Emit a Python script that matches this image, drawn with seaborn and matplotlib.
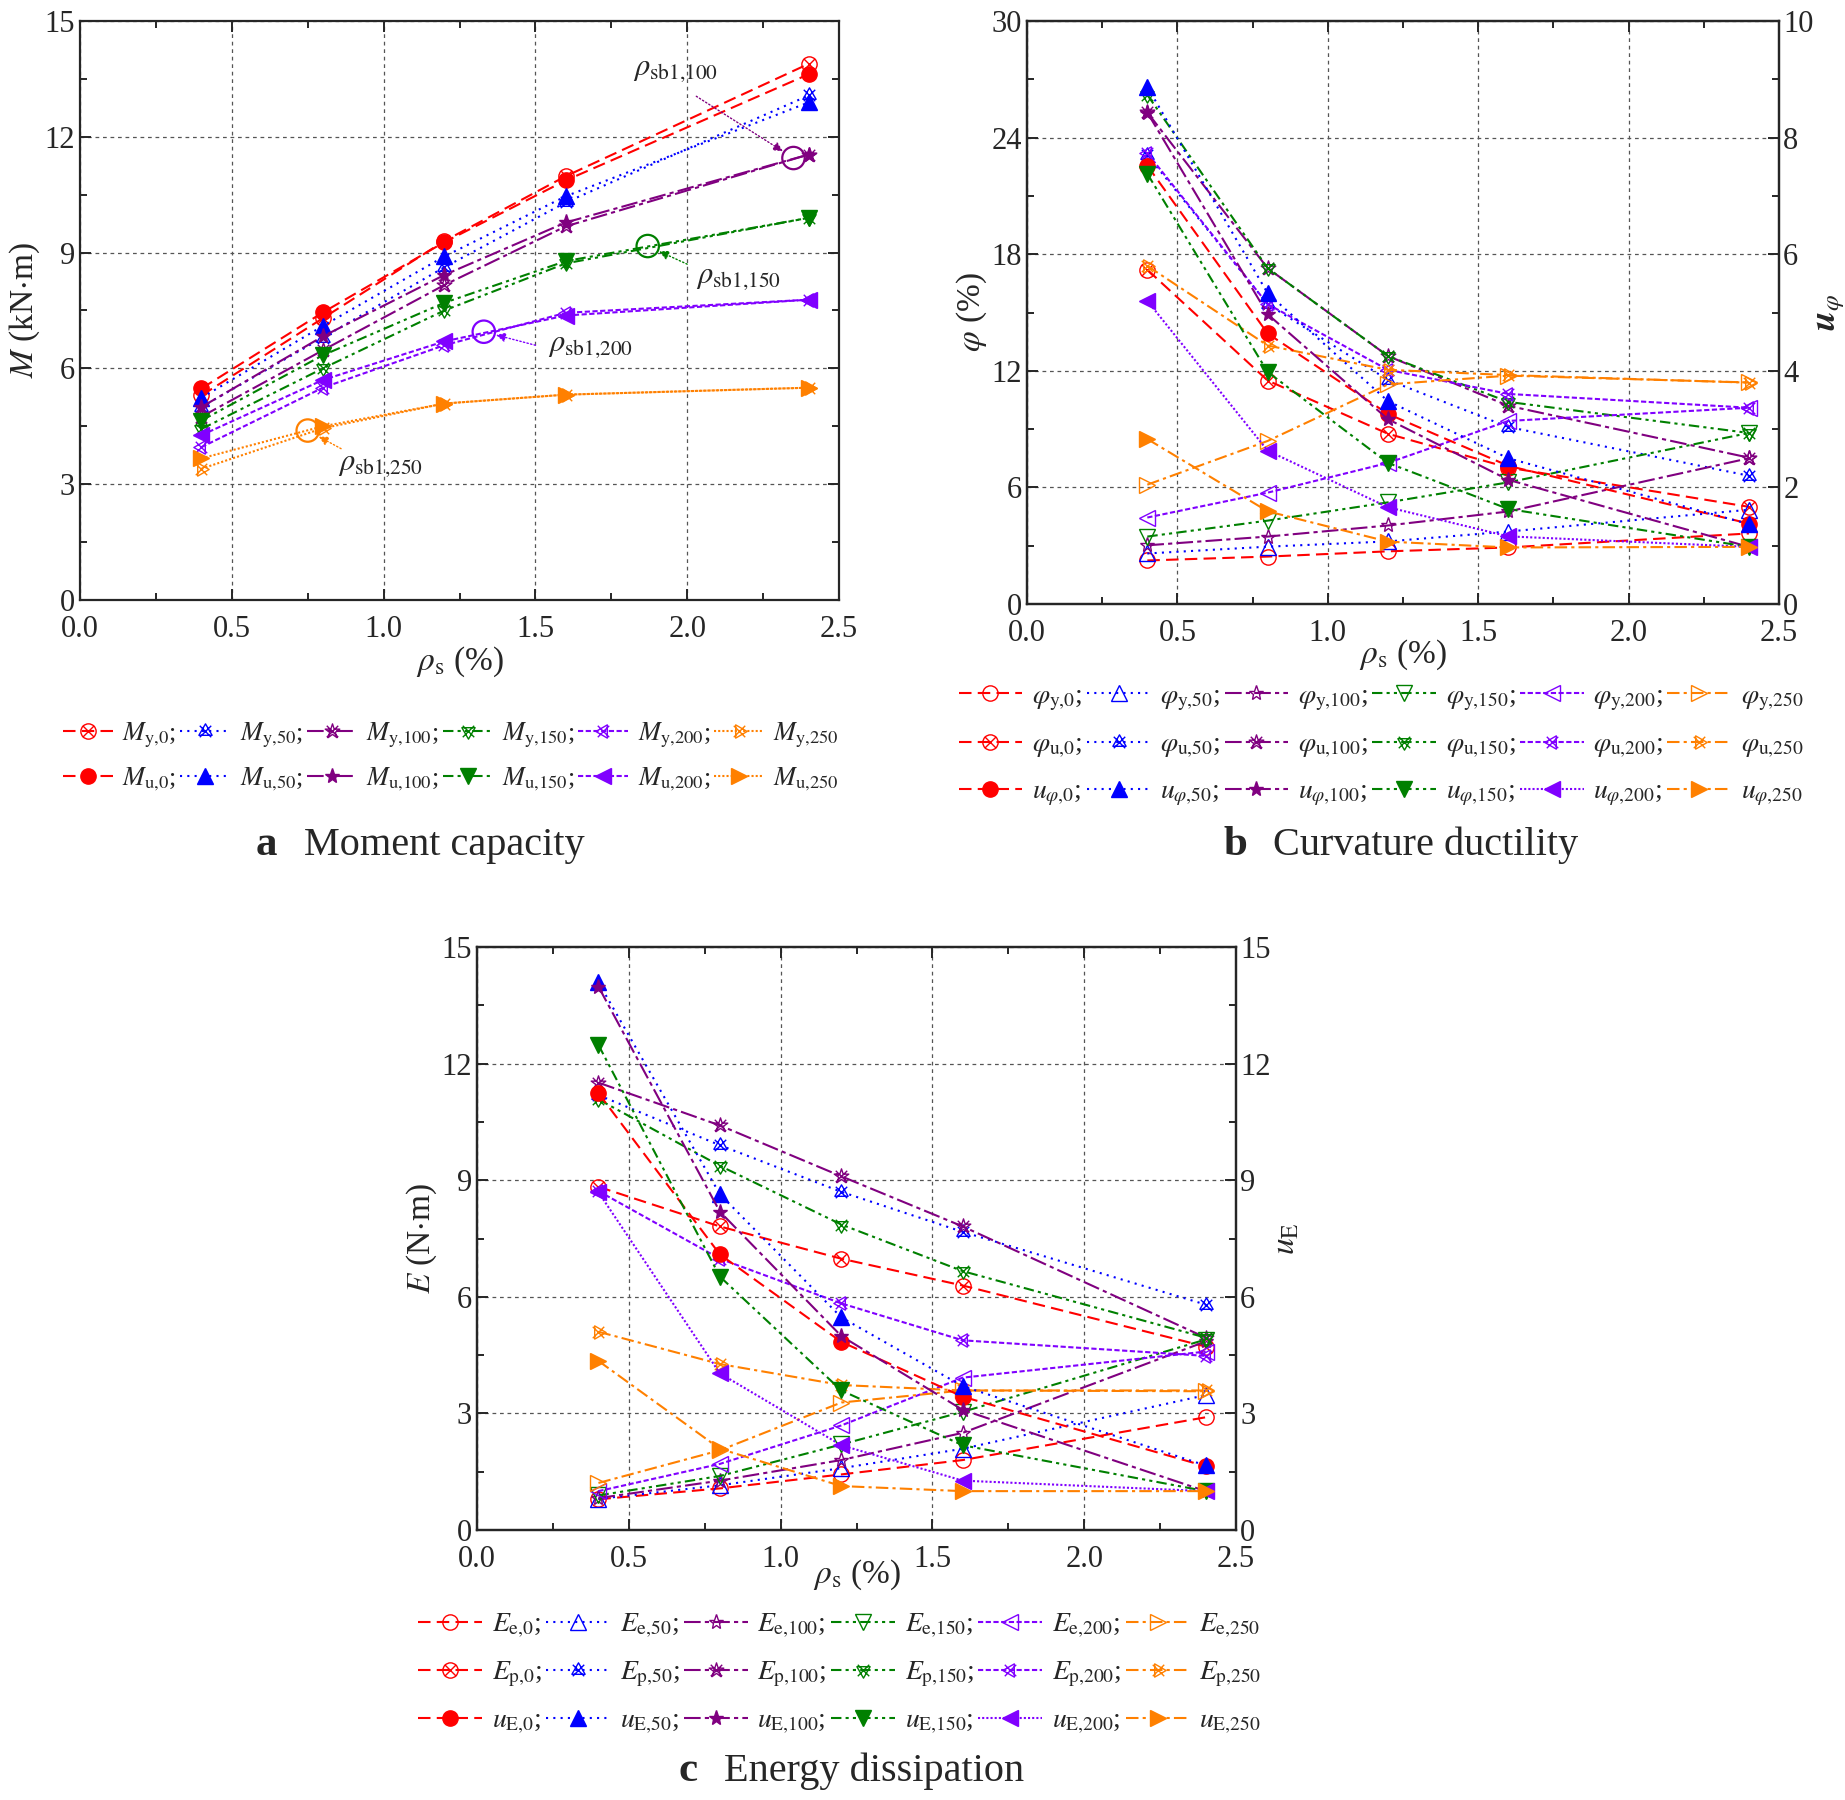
import matplotlib
matplotlib.use('Agg')
import matplotlib.pyplot as plt
import numpy as np
import seaborn as sns
from matplotlib.path import Path
from matplotlib.ticker import MultipleLocator

# Dados
rho_s = [0.4, 0.8, 1.2, 1.6, 2.4]
grupos = ['0', '50', '100', '150', '200', '250']

# (a) momento resistente (kN·m)
m_y = [[5.30, 7.30, 9.30, 10.98, 13.89],
       [5.00, 6.80, 8.62, 10.30, 13.07],
       [4.75, 6.47, 8.16, 9.68, 11.54],
       [4.43, 6.00, 7.50, 8.72, 9.90],
       [3.96, 5.50, 6.60, 7.44, 7.78],
       [3.40, 4.45, 5.09, 5.32, 5.50]]
m_u = [[5.48, 7.45, 9.27, 10.87, 13.62],
       [5.24, 7.10, 8.90, 10.46, 12.89],
       [5.00, 6.83, 8.42, 9.78, 11.54],
       [4.65, 6.34, 7.70, 8.78, 9.90],
       [4.27, 5.70, 6.70, 7.37, 7.78],
       [3.67, 4.50, 5.09, 5.32, 5.50]]
# pontos rho_sb1 (100, 150, 200, 250)
sb1_x = [2.35, 1.87, 1.33, 0.75]
sb1_y = [11.45, 9.17, 6.95, 4.39]

# (b) curvatura (%) e ductilidade
phi_y = [[2.24, 2.44, 2.71, 2.91, 3.63],
         [2.60, 2.95, 3.22, 3.73, 4.85],
         [3.02, 3.47, 4.04, 4.76, 7.50],
         [3.47, 4.29, 5.23, 6.26, 8.80],
         [4.45, 5.73, 7.26, 9.42, 10.10],
         [6.14, 8.39, 11.30, 11.75, 11.40]]
phi_u = [[17.2, 11.50, 8.76, 7.02, 5.00],
         [23.1, 15.43, 11.53, 9.11, 6.60],
         [25.3, 17.28, 12.76, 10.20, 7.53],
         [26.2, 17.28, 12.76, 10.40, 8.80],
         [23.2, 15.43, 12.05, 10.81, 10.10],
         [17.4, 13.30, 12.05, 11.78, 11.39]]
u_phi = [[7.52, 4.64, 3.26, 2.37, 1.38],
         [8.87, 5.33, 3.48, 2.50, 1.37],
         [8.43, 4.97, 3.17, 2.13, 0.98],
         [7.38, 3.98, 2.42, 1.63, 0.98],
         [5.20, 2.63, 1.66, 1.16, 0.98],
         [2.83, 1.59, 1.07, 0.97, 0.98]]

# (c) energia dissipada (N·m) e ductilidade
e_e = [[0.79, 1.07, 1.43, 1.80, 2.90],
       [0.80, 1.15, 1.59, 2.09, 3.47],
       [0.82, 1.27, 1.80, 2.50, 4.85],
       [0.89, 1.39, 2.20, 3.04, 4.90],
       [1.00, 1.70, 2.69, 3.92, 4.59],
       [1.21, 2.05, 3.28, 3.59, 3.57]]
e_p = [[8.83, 7.81, 6.98, 6.29, 4.72],
       [11.19, 9.90, 8.70, 7.67, 5.80],
       [11.51, 10.41, 9.10, 7.81, 4.95],
       [11.08, 9.37, 7.86, 6.66, 4.95],
       [8.72, 6.98, 5.83, 4.88, 4.48],
       [5.10, 4.27, 3.73, 3.59, 3.59]]
u_e = [[11.24, 7.09, 4.84, 3.43, 1.64],
       [14.09, 8.64, 5.47, 3.70, 1.66],
       [13.98, 8.19, 4.99, 3.09, 1.00],
       [12.48, 6.52, 3.59, 2.18, 1.00],
       [8.69, 4.03, 2.18, 1.27, 1.00],
       [4.35, 2.09, 1.13, 1.00, 1.00]]

cores = ['#FF0000', '#0000FF', '#800080', '#008000', '#8000FF', '#FF8000']
estilos = [(0, (6, 3)), (0, (1, 2.5)), (0, (8, 2, 2, 2)), (0, (5, 2, 1.5, 2, 1.5, 2)),
           (0, (2.5, 1.2)), (0, (1, 1))]
estilos_bc = [(0, (6, 3)), (0, (1, 2.5)), (0, (8, 2, 2, 2)), (0, (5, 2, 1.5, 2, 1.5, 2)),
              (0, (2.5, 1.2)), (0, (6, 2, 1.5, 2))]
estilos_u = estilos_bc[:4] + [(0, (1, 1)), (0, (6, 2, 1.5, 2))]
marcadores = ['o', '^', '*', 'v', '<', '>']

# Marcadores "cruzados" (forma + X)
cruz = Path([(-0.75, -0.75), (0.75, 0.75), (-0.75, 0.75), (0.75, -0.75)],
            [Path.MOVETO, Path.LINETO, Path.MOVETO, Path.LINETO])


def tri(rot):
    ang = np.deg2rad(np.array([90, 210, 330, 90]) + rot)
    return Path(list(zip(np.cos(ang), np.sin(ang))), closed=True)


formas = [Path.unit_circle(), tri(0), Path.unit_regular_star(5, 0.38), tri(180), tri(90), tri(270)]
marc_cruz = [Path.make_compound_path(f, cruz) for f in formas]

sns.set_style('ticks')
plt.rcParams['font.family'] = ['Liberation Serif', 'DejaVu Serif']
plt.rcParams['mathtext.fontset'] = 'stix'
plt.rcParams['axes.linewidth'] = 1.6

fig = plt.figure(figsize=(18.45, 18), dpi=100)
TAM = 22


def serie(ax, y, cor, ls, mk, aberto, label, ms=11):
    sns.lineplot(x=rho_s, y=y, ax=ax, color=cor, linestyle=ls, marker=mk, markersize=ms,
                 markerfacecolor='none' if aberto else cor, markeredgecolor=cor,
                 markeredgewidth=1.0, linewidth=1.5, label=label, legend=False, errorbar=None)
    return ax.lines[-1]


def eixos(ax, ymax, ymaj, ymin, ylabel, xlabelpad=4):
    ax.set_xlim(0, 2.5)
    ax.set_ylim(0, ymax)
    ax.xaxis.set_major_locator(MultipleLocator(0.5))
    ax.xaxis.set_minor_locator(MultipleLocator(0.25))
    ax.yaxis.set_major_locator(MultipleLocator(ymaj))
    ax.yaxis.set_minor_locator(MultipleLocator(ymin))
    ax.tick_params(which='both', direction='in', top=True, labelsize=TAM, width=1.4)
    ax.tick_params(axis='x', which='major', pad=11)
    ax.tick_params(which='major', length=8)
    ax.tick_params(which='minor', length=5)
    ax.grid(True, which='major', color='#555555', linestyle=(0, (3, 3)), linewidth=0.9)
    ax.set_xlabel(r'$\rho_{\mathrm{s}}$ (%)', fontsize=TAM + 2, labelpad=xlabelpad)
    ax.set_ylabel(ylabel, fontsize=TAM + 2, labelpad=2)
    ax.set_axisbelow(True)


def eixo_direito(ax2, ymax, ymaj, ymin, ylabel, tam):
    ax2.set_ylim(0, ymax)
    ax2.yaxis.set_major_locator(MultipleLocator(ymaj))
    ax2.yaxis.set_minor_locator(MultipleLocator(ymin))
    ax2.tick_params(which='both', direction='in', labelsize=TAM, width=1.4, pad=3)
    ax2.tick_params(which='major', length=8)
    ax2.tick_params(which='minor', length=5)
    ax2.set_ylabel(ylabel, fontsize=tam, labelpad=0)
    ax2.grid(False)


def legenda(ax, linhas, rotulos, cx, cy, hl=2.3, esp=0.7, tam=20):
    hs, ls = [], []
    for g in range(6):
        for r in range(len(linhas)):
            hs.append(linhas[r][g])
            ls.append(rotulos[r][g] + (';' if g < 5 else ''))
    ax.legend(hs, ls, ncol=6, loc='center', bbox_to_anchor=(cx, cy), bbox_transform=fig.transFigure,
              frameon=False, fontsize=tam, handlelength=hl, handletextpad=0.35,
              columnspacing=0.15, labelspacing=esp)


def sub(letra, a, b):
    return rf'${letra}_{{\mathrm{{{a}{{,}}{b}}}}}$'


# ---------------- (a) Moment capacity ----------------
ax_a = fig.add_axes([80 / 1845, 1 - 600 / 1800, 759 / 1845, 579 / 1800])
la_y, la_u = [], []
for i, g in enumerate(grupos):
    la_y.append(serie(ax_a, m_y[i], cores[i], estilos[i], marc_cruz[i], True, 'My' + g))
    la_u.append(serie(ax_a, m_u[i], cores[i], estilos[i], marcadores[i], False, 'Mu' + g))
eixos(ax_a, 15, 3, 1.5, r'$M$ (kN$\cdot$m)', xlabelpad=0)
ax_a.tick_params(which='both', right=True)

# pontos rho_sb1 e anotações
cores_sb1 = ['#800080', '#008000', '#8000FF', '#FF8000']
textos_sb1 = [r'$\rho_{\mathrm{sb1{,}100}}$', r'$\rho_{\mathrm{sb1{,}150}}$',
              r'$\rho_{\mathrm{sb1{,}200}}$', r'$\rho_{\mathrm{sb1{,}250}}$']
pos_texto = [(1.82, 13.75), (2.03, 8.35), (1.54, 6.6), (0.85, 3.5)]
inicio_seta = [(2.03, 13.05), (2.0, 8.7), (1.5, 6.6), (0.86, 3.92)]
for i in range(4):
    sns.scatterplot(x=[sb1_x[i]], y=[sb1_y[i]], ax=ax_a, s=260, marker='o', facecolors='none',
                    edgecolor=cores_sb1[i], linewidth=1.6, legend=False, zorder=5)
    ax_a.annotate('', xy=(sb1_x[i], sb1_y[i]), xytext=inicio_seta[i],
                  arrowprops=dict(arrowstyle='-|>', color=cores_sb1[i], lw=1.0, linestyle=':',
                                  shrinkA=0, shrinkB=9, mutation_scale=14))
    ax_a.text(pos_texto[i][0], pos_texto[i][1], textos_sb1[i], fontsize=22, ha='left', va='center')

legenda(ax_a, [la_y, la_u],
        [[sub('M', 'y', g) for g in grupos], [sub('M', 'u', g) for g in grupos]],
        451 / 1845, 1 - 757 / 1800, hl=1.9, esp=0.6, tam=19)

# ---------------- (b) Curvature ductility ----------------
ax_b = fig.add_axes([1027 / 1845, 1 - 604 / 1800, 752 / 1845, 583 / 1800])
ax_b2 = ax_b.twinx()
lb_y, lb_p, lb_u = [], [], []
for i, g in enumerate(grupos):
    lb_y.append(serie(ax_b, phi_y[i], cores[i], estilos_bc[i], marcadores[i], True, 'py' + g))
    lb_p.append(serie(ax_b, phi_u[i], cores[i], estilos_bc[i], marc_cruz[i], True, 'pu' + g))
    lb_u.append(serie(ax_b2, u_phi[i], cores[i], estilos_u[i], marcadores[i], False, 'up' + g))
eixos(ax_b, 30, 6, 3, r'$\varphi$ (%)', xlabelpad=-8)
eixo_direito(ax_b2, 10, 2, 1, r'$\mathbfit{u}_{\varphi}$', TAM + 4)
legenda(ax_b2, [lb_y, lb_p, lb_u],
        [[sub(r'\varphi', 'y', g) for g in grupos],
         [sub(r'\varphi', 'u', g) for g in grupos],
         [rf'$u_{{\varphi{{,}}\mathrm{{{g}}}}}$' for g in grupos]],
        1381 / 1845, 1 - 746 / 1800)

# ---------------- (c) Energy dissipation ----------------
ax_c = fig.add_axes([477 / 1845, 1 - 1530 / 1800, 759 / 1845, 583 / 1800])
ax_c2 = ax_c.twinx()
lc_e, lc_p, lc_u = [], [], []
for i, g in enumerate(grupos):
    lc_e.append(serie(ax_c, e_e[i], cores[i], estilos_bc[i], marcadores[i], True, 'ee' + g))
    lc_p.append(serie(ax_c, e_p[i], cores[i], estilos_bc[i], marc_cruz[i], True, 'ep' + g))
    lc_u.append(serie(ax_c2, u_e[i], cores[i], estilos_u[i], marcadores[i], False, 'ue' + g))
eixos(ax_c, 15, 3, 1.5, r'$E$ (N$\cdot$m)', xlabelpad=-12)
eixo_direito(ax_c2, 15, 3, 1.5, r'$u_{\mathrm{E}}$', TAM + 2)
legenda(ax_c2, [lc_e, lc_p, lc_u],
        [[sub('E', 'e', g) for g in grupos],
         [sub('E', 'p', g) for g in grupos],
         [sub('u', 'E', g) for g in grupos]],
        840 / 1845, 1 - 1674 / 1800)

# Títulos dos painéis
for letra, titulo, xl, xt, yy in [('a', 'Moment capacity', 266, 304, 845),
                                   ('b', 'Curvature ductility', 1235, 1273, 845),
                                   ('c', 'Energy dissipation', 688, 724, 1771)]:
    fig.text(xl / 1845, 1 - yy / 1800, letra, fontsize=31, fontweight='bold', ha='center', va='center')
    fig.text(xt / 1845, 1 - yy / 1800, titulo, fontsize=29, ha='left', va='center')

fig.savefig('out.png', dpi=100)
plt.close(fig)
